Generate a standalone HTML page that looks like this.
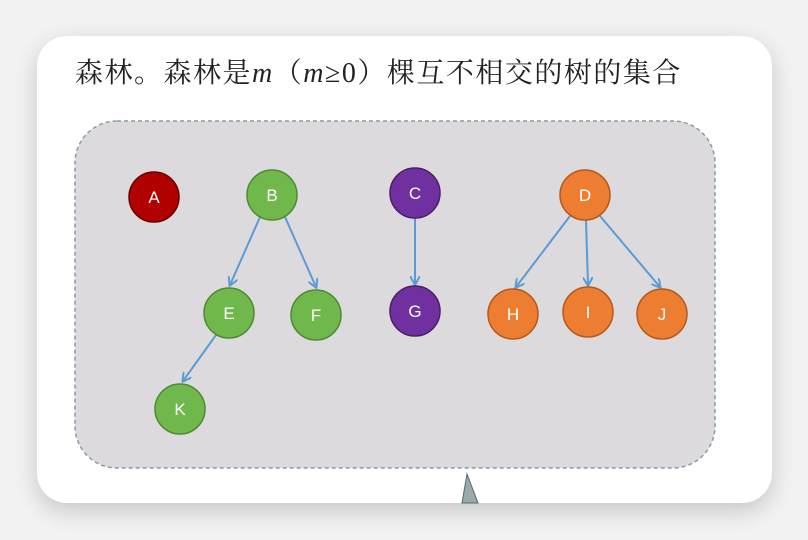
<!DOCTYPE html>
<html><head><meta charset="utf-8"><style>
body{margin:0;width:808px;height:540px;background:#f2f2f2;position:relative;overflow:hidden;font-family:"Liberation Sans",sans-serif}
.card{position:absolute;left:37px;top:36px;width:735px;height:467px;background:#fff;border-radius:30px;box-shadow:0 8px 24px rgba(0,0,0,.18);overflow:hidden}
.t{position:absolute;left:75px;top:51px;font:28px "Liberation Serif","Noto Serif CJK SC",serif;color:#222;white-space:nowrap;letter-spacing:1.5px}
</style></head><body>
<div class="card"></div>
<div class="t">森林。森林是<i>m</i>（<i>m</i>≥0）棵互不相交的树的集合</div>
<svg width="808" height="540" style="position:absolute;left:0;top:0">
<defs><marker id="a" markerWidth="10" markerHeight="10" refX="8" refY="5" orient="auto" markerUnits="userSpaceOnUse"><path d="M0,0L9,5L0,10" fill="none" stroke="#5b9bd5" stroke-width="2"/></marker></defs>
<rect x="75" y="121" width="640" height="347" rx="42" fill="#dcdadc" stroke="#8a9aa8" stroke-width="1.5" stroke-dasharray="4,3"/>
<g stroke="#5b9bd5" stroke-width="2" marker-end="url(#a)">
<line x1="260" y1="217" x2="230" y2="285"/>
<line x1="285" y1="217" x2="316" y2="287"/>
<line x1="216" y1="335" x2="183" y2="381"/>
<line x1="415" y1="218" x2="415" y2="284"/>
<line x1="570" y1="216" x2="516" y2="287"/>
<line x1="586" y1="220" x2="588" y2="285"/>
<line x1="600" y1="216" x2="660" y2="287"/>
</g>
<g stroke-width="1.5" font-size="17" text-anchor="middle" fill="#fff">
<circle cx="154" cy="197" r="25" fill="#b00000" stroke="#6a0000"/>
<circle cx="272" cy="195" r="25" fill="#70b84b" stroke="#4f8a33"/>
<circle cx="229" cy="313" r="25" fill="#70b84b" stroke="#4f8a33"/>
<circle cx="316" cy="315" r="25" fill="#70b84b" stroke="#4f8a33"/>
<circle cx="180" cy="409" r="25" fill="#70b84b" stroke="#4f8a33"/>
<circle cx="415" cy="193" r="25" fill="#7030a0" stroke="#4a1f6b"/>
<circle cx="415" cy="311" r="25" fill="#7030a0" stroke="#4a1f6b"/>
<circle cx="585" cy="195" r="25" fill="#ed7d31" stroke="#b35a1e"/>
<circle cx="513" cy="314" r="25" fill="#ed7d31" stroke="#b35a1e"/>
<circle cx="588" cy="312" r="25" fill="#ed7d31" stroke="#b35a1e"/>
<circle cx="662" cy="314" r="25" fill="#ed7d31" stroke="#b35a1e"/>
<g stroke="none">
<text x="154" y="203">A</text><text x="272" y="201">B</text><text x="229" y="319">E</text><text x="316" y="321">F</text><text x="180" y="415">K</text>
<text x="415" y="199">C</text><text x="415" y="317">G</text><text x="585" y="201">D</text><text x="513" y="320">H</text><text x="588" y="318">I</text><text x="662" y="320">J</text>
</g></g>
<path d="M462,503 L467,474 L478,503Z" fill="#9aa" stroke="#567" stroke-width="1"/>
</svg>
</body></html>
